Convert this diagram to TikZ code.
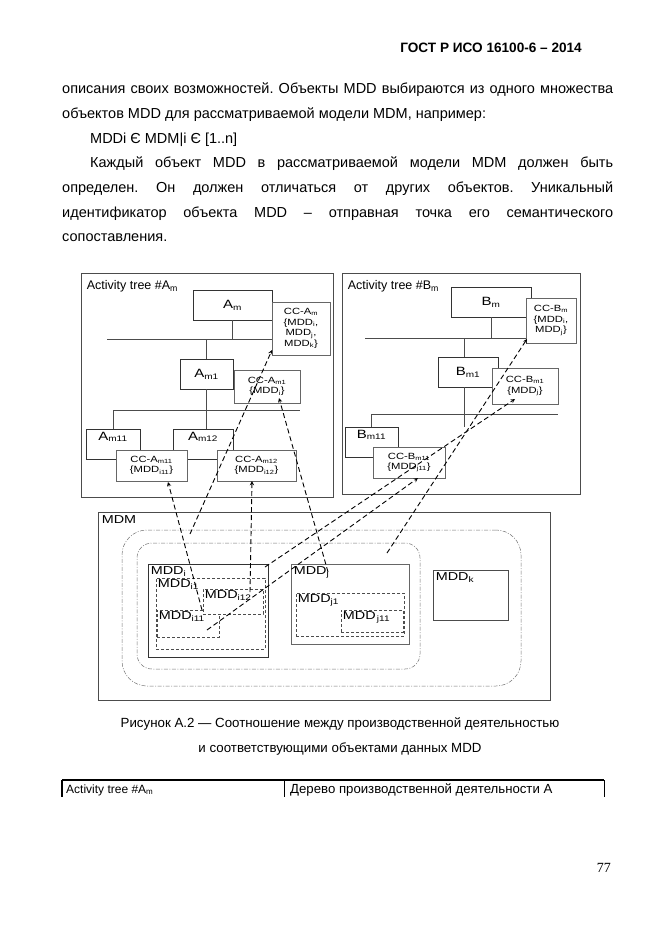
\documentclass[tikz,border=0pt]{standalone}
\usepackage{fontspec}
\setmainfont{Liberation Sans}
\newfontfamily\dfont[FakeStretch=1.25]{Liberation Sans}
\newfontfamily\numfont{Liberation Serif}
\usetikzlibrary{positioning}
\frenchspacing

\begin{document}
\begin{tikzpicture}[x=1pt,y=-1pt]
\tikzstyle{txt}=[inner sep=0pt, anchor=base west, font=\fontsize{14.5}{16}\selectfont]
\tikzstyle{frame}=[draw=black!70, line width=0.7pt]
\tikzstyle{tbox}=[draw=black!80, line width=0.7pt, fill=white, font=\dfont\fontsize{12}{14}\selectfont]
\tikzstyle{ccbox}=[draw=black!60, line width=0.6pt, fill=white, align=center, inner sep=1pt, font=\dfont\fontsize{9}{10.5}\selectfont]
\tikzstyle{setbox}=[draw=black!80, line width=0.8pt]
\tikzstyle{subset}=[draw=black!70, line width=0.6pt, dash pattern=on 3pt off 2pt]
\tikzstyle{group}=[draw=black!55, line width=0.5pt, dash pattern=on 4pt off 1.5pt on 1pt off 1.5pt]
\tikzstyle{inlbl}=[anchor=north west, inner sep=3pt, font=\dfont\fontsize{11.5}{13}\selectfont]
\tikzstyle{treelbl}=[anchor=north west, inner xsep=6pt, inner ysep=8pt, font=\fontsize{12.5}{14}\selectfont]
\tikzstyle{toplbl}=[anchor=north, inner sep=3pt, font=\dfont\fontsize{12}{14}\selectfont]
\tikzstyle{tline}=[draw=black!70, line width=0.6pt]
\tikzstyle{link}=[black, line width=0.9pt, dash pattern=on 5pt off 3pt, -stealth]
\useasboundingbox (0,0) rectangle (662,935);

% page text
\node[txt, anchor=base east, font=\bfseries\fontsize{13.6}{15}\selectfont] (head) at (582,52) {ГОСТ Р ИСО 16100-6 – 2014};
\node[txt] (l1) at (62,93) {\makebox[551pt][s]{описания своих возможностей. Объекты MDD выбираются из одного множества}};
\node[txt] (l2) at (62,118) {объектов MDD для рассматриваемой модели MDM, например:};
\node[txt] (l3) at (90,143) {MDDi Є MDM|i Є [1..n]};
\node[txt] (l4) at (90,167) {\makebox[523pt][s]{Каждый объект MDD в рассматриваемой модели MDM должен быть}};
\node[txt] (l5) at (62,192) {\makebox[551pt][s]{определен. Он должен отличаться от других объектов. Уникальный}};
\node[txt] (l6) at (62,217) {\makebox[551pt][s]{идентификатор объекта MDD – отправная точка его семантического}};
\node[txt] (l7) at (62,241) {сопоставления.};

% activity tree A
\node[frame, minimum width=252, minimum height=224, label={[treelbl]north west:Activity tree \#A\textsubscript{m}}] (treeA) at (207,385) {};
\node[tbox, minimum width=79, minimum height=30] (am) at (232.5,305) {A\textsubscript{m}};
\node[ccbox, minimum width=58, minimum height=53] (ccam) at (301,328.5) {CC-A\textsubscript{m}\\\{MDD\textsubscript{i},\\MDD\textsubscript{j},\\MDD\textsubscript{k}\}};
\node[tbox, minimum width=53, minimum height=30] (am1) at (206.5,374) {A\textsubscript{m1}};
\node[ccbox, minimum width=66, minimum height=33] (ccam1) at (267,386.5) {CC-A\textsubscript{m1}\\\{MDD\textsubscript{i}\}};
\node[tbox, minimum width=54, minimum height=30, label={[toplbl]north:A\textsubscript{m11}}] (am11) at (113,444) {};
\node[tbox, minimum width=60, minimum height=30, label={[toplbl]north:A\textsubscript{m12}}] (am12) at (203,444) {};
\node[ccbox, minimum width=71, minimum height=31] (ccam11) at (151.5,465.5) {CC-A\textsubscript{m11}\\\{MDD\textsubscript{i11}\}};
\node[ccbox, minimum width=79, minimum height=31] (ccam12) at (256.5,465.5) {CC-A\textsubscript{m12}\\\{MDD\textsubscript{i12}\}};
\draw[tline] (107,339) -- (ccam.west |- 0,339);
\draw[tline] (am.south) -- (am.south |- 0,339);
\draw[tline] (am1.north) -- (am1.north |- 0,339);
\draw[tline] (113,410) -- (ccam1.east |- 0,410);
\draw[tline] (am1.south) -- (am1.south |- am12.north);
\draw[tline] (am11.north) -- (am11.north |- 0,410);

% activity tree B
\node[frame, minimum width=238, minimum height=221, label={[treelbl]north west:Activity tree \#B\textsubscript{m}}] (treeB) at (461,383.5) {};
\node[tbox, minimum width=80, minimum height=30] (bm) at (491,302) {B\textsubscript{m}};
\node[ccbox, minimum width=50, minimum height=45] (ccbm) at (551,320.5) {CC-B\textsubscript{m}\\\{MDD\textsubscript{i},\\MDD\textsubscript{j}\}};
\node[tbox, minimum width=60, minimum height=30] (bm1) at (468,372) {B\textsubscript{m1}};
\node[ccbox, minimum width=66, minimum height=36] (ccbm1) at (525,386) {CC-B\textsubscript{m1}\\\{MDD\textsubscript{j}\}};
\node[tbox, minimum width=53, minimum height=30, label={[toplbl]north:B\textsubscript{m11}}] (bm11) at (371.5,442) {};
\node[ccbox, minimum width=72, minimum height=31] (ccbm11) at (409,462.5) {CC-B\textsubscript{m11}\\\{MDD\textsubscript{j11}\}};
\draw[tline] (365,338) -- (ccbm.west |- 0,338);
\draw[tline] (bm.south) -- (bm.south |- 0,338);
\draw[tline] (464,338) -- (464,357);
\draw[tline] (371,414) -- (ccbm1.east |- 0,414);
\draw[tline] (464,387) -- (464,427);
\draw[tline] (bm11.north) -- (bm11.north |- 0,414);

% MDM
\node[frame, minimum width=452, minimum height=188, label={[inlbl, inner sep=4pt]north west:MDM}] (mdm) at (324,606) {};
\node[group, rounded corners=25, minimum width=399, minimum height=156] (setijk) at (321.5,608) {};
\node[group, rounded corners=15, minimum width=283, minimum height=126] (setij) at (278.5,606) {};
\node[setbox, minimum width=120, minimum height=93, label={[inlbl]north west:MDD\textsubscript{i}}] (mddi) at (208,610.5) {};
\node[subset, minimum width=109, minimum height=71, label={[inlbl, inner sep=2pt]north west:MDD\textsubscript{i1}}] (mddi1) at (210.5,613.5) {};
\node[subset, minimum width=62, minimum height=27, label={[inlbl, inner sep=2pt]north west:MDD\textsubscript{i11}}] (mddi11) at (188,623.5) {};
\node[subset, fill=white, minimum width=60, minimum height=25, label={[inlbl, inner sep=2pt]north west:MDD\textsubscript{i12}}] (mddi12) at (233,601.5) {};
\node[setbox, draw=black!60, minimum width=118, minimum height=80, label={[inlbl]north west:MDD\textsubscript{j}}] (mddj) at (350,604) {};
\node[subset, minimum width=108, minimum height=43, label={[inlbl, inner sep=2pt]north west:MDD\textsubscript{j1}}] (mddj1) at (350,614.5) {};
\node[subset, minimum width=62, minimum height=22, label={[inlbl, inner sep=2pt]north west:MDD\textsubscript{\,j11}}] (mddj11) at (372,621) {};
\node[setbox, draw=black!70, minimum width=75, minimum height=50, label={[inlbl]north west:MDD\textsubscript{k}}] (mddk) at (470.5,595) {};

% links between MDD objects and CC
\coordinate (s1) at (190,534);   \coordinate (e1) at (272,350);
\coordinate (s2) at (328,572);   \coordinate (e2) at (279,398);
\coordinate (s3) at (202,610);   \coordinate (e3) at (168,482);
\coordinate (s4) at (250,592);   \coordinate (e4) at (252,481);
\coordinate (s5) at (387,553);   \coordinate (e5) at (527,339);
\coordinate (s6) at (265,567);   \coordinate (e6) at (515,399);
\coordinate (s7) at (207,630);   \coordinate (e7) at (418,478);
\foreach \i in {1,...,7}
  \draw[link] (s\i) -- (e\i);

% caption and table
\node[txt, anchor=base, font=\fontsize{13.3}{15}\selectfont] (cap1) at (340,727) {Рисунок А.2 — Соотношение между производственной деятельностью};
\node[txt, anchor=base, font=\fontsize{13.3}{15}\selectfont] (cap2) at (340,752) {и соответствующими объектами данных MDD};
\draw[line width=1.2pt] (62,780) -- (604,780);
\draw[line width=1.6pt] (62,780) -- (62,797);
\draw[line width=0.8pt] (284,780) -- (284,797);
\draw[line width=0.8pt] (604,780) -- (604,797);
\node[txt, font=\fontsize{12}{14}\selectfont] (cell1) at (66,793) {Activity tree \#A\textsubscript{m}};
\node[txt, font=\fontsize{13.2}{14}\selectfont] (cell2) at (290,793) {Дерево производственной деятельности А};
\node[txt, anchor=base east, font=\numfont\fontsize{14}{16}\selectfont] (pnum) at (611,872) {77};
\end{tikzpicture}
\end{document}
